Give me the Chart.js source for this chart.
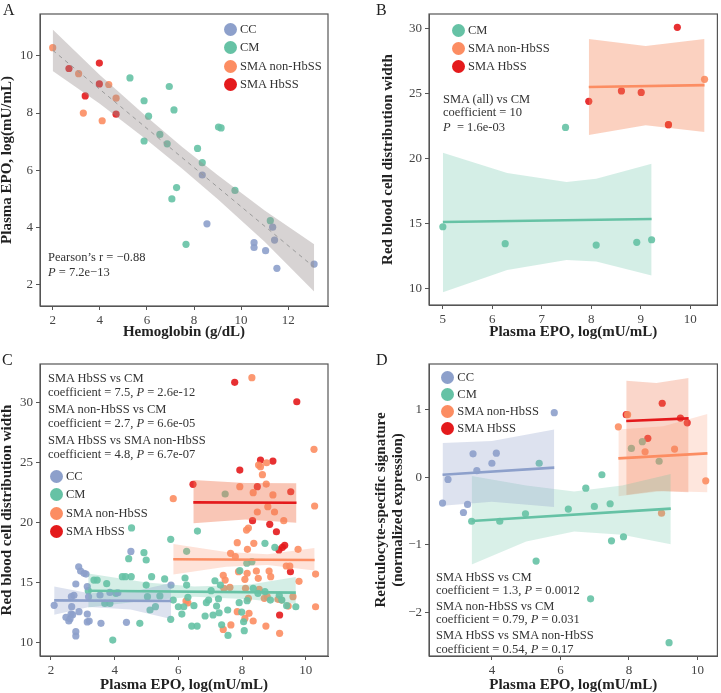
<!DOCTYPE html>
<html>
<head>
<meta charset="utf-8">
<script src="https://cdn.jsdelivr.net/npm/chart.js@4.4.1/dist/chart.umd.min.js"></script>
<style>
body{margin:0;background:#fff;}
#page{position:relative;width:721px;height:693px;font-family:"Liberation Serif",serif;color:#333;overflow:hidden;}
.panel{position:absolute;}
.lab{position:absolute;font-size:16px;line-height:16px;color:#222;}
.note{position:absolute;font-size:12.5px;line-height:14px;white-space:nowrap;}
.leg{position:absolute;font-size:12.5px;white-space:nowrap;}
.leg div{display:flex;align-items:center;}
.dot{width:13px;height:13px;border-radius:50%;display:inline-block;margin-right:3.5px;}
</style>
</head>
<body>
<div id="page">
  <canvas id="chartA" class="panel" style="left:0;top:0" width="360" height="340"></canvas>
  <canvas id="chartB" class="panel" style="left:360px;top:0" width="361" height="340"></canvas>
  <canvas id="chartC" class="panel" style="left:0;top:340px" width="360" height="353"></canvas>
  <canvas id="chartD" class="panel" style="left:360px;top:340px" width="361" height="353"></canvas>

  <div class="lab" style="left:3px;top:2px">A</div>
  <div class="lab" style="left:376px;top:2px">B</div>
  <div class="lab" style="left:2px;top:352px">C</div>
  <div class="lab" style="left:376px;top:352px">D</div>

  <!-- panel A -->
  <div class="leg" style="left:223.5px;top:20px">
    <div style="height:18.5px"><span class="dot" style="background:#8DA0CB"></span>CC</div>
    <div style="height:18.5px"><span class="dot" style="background:#66C2A5"></span>CM</div>
    <div style="height:18.5px"><span class="dot" style="background:#FC8D62"></span>SMA non-HbSS</div>
    <div style="height:18.5px"><span class="dot" style="background:#E41A1C"></span>SMA HbSS</div>
  </div>
  <div class="note" style="left:48px;top:249.5px">Pearson’s r = −0.88</div>
  <div class="note" style="left:48px;top:264.5px"><i>P</i> = 7.2e−13</div>

  <!-- panel B -->
  <div class="leg" style="left:451.5px;top:21px">
    <div style="height:18.2px"><span class="dot" style="background:#66C2A5"></span>CM</div>
    <div style="height:18.2px"><span class="dot" style="background:#FC8D62"></span>SMA non-HbSS</div>
    <div style="height:18.2px"><span class="dot" style="background:#E41A1C"></span>SMA HbSS</div>
  </div>
  <div class="note" style="left:443px;top:91.5px">SMA (all) vs CM</div>
  <div class="note" style="left:443px;top:105px">coefficient = 10</div>
  <div class="note" style="left:443px;top:119.5px"><i>P</i> &nbsp;= 1.6e-03</div>

  <!-- panel C -->
  <div class="note" style="left:48px;top:370.5px">SMA HbSS vs CM</div>
  <div class="note" style="left:48px;top:385px">coefficient = 7.5, <i>P</i> = 2.6e-12</div>
  <div class="note" style="left:48px;top:402px">SMA non-HbSS vs CM</div>
  <div class="note" style="left:48px;top:415.5px">coefficient = 2.7, <i>P</i> = 6.6e-05</div>
  <div class="note" style="left:48px;top:433px">SMA HbSS vs SMA non-HbSS</div>
  <div class="note" style="left:48px;top:447px">coefficient = 4.8, <i>P</i> = 6.7e-07</div>
  <div class="leg" style="left:49.5px;top:467.6px">
    <div style="height:18.2px"><span class="dot" style="background:#8DA0CB"></span>CC</div>
    <div style="height:18.2px"><span class="dot" style="background:#66C2A5"></span>CM</div>
    <div style="height:18.2px"><span class="dot" style="background:#FC8D62"></span>SMA non-HbSS</div>
    <div style="height:18.2px"><span class="dot" style="background:#E41A1C"></span>SMA HbSS</div>
  </div>

  <!-- panel D -->
  <div class="leg" style="left:440.8px;top:369.2px">
    <div style="height:16.9px"><span class="dot" style="background:#8DA0CB"></span>CC</div>
    <div style="height:16.9px"><span class="dot" style="background:#66C2A5"></span>CM</div>
    <div style="height:16.9px"><span class="dot" style="background:#FC8D62"></span>SMA non-HbSS</div>
    <div style="height:16.9px"><span class="dot" style="background:#E41A1C"></span>SMA HbSS</div>
  </div>
  <div class="note" style="left:436px;top:569.5px">SMA HbSS vs CM</div>
  <div class="note" style="left:436px;top:583px">coefficient = 1.3, <i>P</i> = 0.0012</div>
  <div class="note" style="left:436px;top:598.5px">SMA non-HbSS vs CM</div>
  <div class="note" style="left:436px;top:612px">coefficient = 0.79, <i>P</i> = 0.031</div>
  <div class="note" style="left:436px;top:628px">SMA HbSS vs SMA non-HbSS</div>
  <div class="note" style="left:436px;top:642px">coefficient = 0.54, <i>P</i> = 0.17</div>
</div>

<script>
//=========================================
// Colours
//=========================================
const colCC = "#8DA0CB";
const colCM = "#66C2A5";
const colNon = "#FC8D62";
const colHbSS = "#E41A1C";

//=========================================
// Panel A : hemoglobin (x) vs plasma EPO (y)
//=========================================
const aCC = [[8.35,5.83],[8.55,4.12],[11.34,4.0],[11.42,3.55],[10.55,3.46],[10.55,3.29],[11.04,3.18],[11.52,2.56],[13.1,2.71]];
const aCM = [[5.28,9.23],[6.95,8.93],[5.88,8.43],[7.15,8.11],[6.07,7.89],[9.04,7.51],[9.15,7.48],[6.55,7.25],[5.88,7.02],[6.86,6.92],[8.15,6.76],[8.35,6.26],[7.26,5.39],[7.06,4.99],[9.74,5.29],[11.24,4.23],[7.66,3.40]];
const aNon = [[2.0,10.29],[3.1,9.38],[4.38,9.0],[4.69,8.52],[3.30,8.0],[4.1,7.73]];
const aHbSS = [[2.69,9.56],[3.98,9.75],[3.98,9.02],[3.38,8.6],[4.69,7.96]];
const aFit = [[2.0,10.2],[13.1,2.6]];
const aBand = [[2.0,9.47,10.93],[4.0,8.33,9.33],[6.0,7.06,7.86],[7.5,6.05,6.81],[9.0,4.99,5.83],[11.0,3.49,4.59],[13.1,1.75,3.4]];
const aXTicks = [2,4,6,8,10,12];
const aYTicks = [2,4,6,8,10];

//=========================================
// Panel B : plasma EPO vs RDW (subset)
//=========================================
const bCM = [[5.0,14.76],[6.26,13.46],[8.10,13.35],[8.92,13.56],[9.22,13.76],[7.48,22.39]];
const bNon = [[10.29,26.08],[9.56,22.6]];
const bHbSS = [[9.74,30.08],[7.95,24.39],[8.61,25.19],[9.01,25.08],[9.56,22.6]];
const bFitCM = [[5.0,15.12],[9.22,15.35]];
const bFitSMA = [[7.95,25.49],[10.29,25.64]];
const bBandCM = [[5.0,9.72,20.45],[6.3,11.43,18.89],[7.5,12.2,18.2],[8.1,12.1,18.45],[9.22,11.02,19.6]];
const bBandSMA = [[7.95,21.8,29.18],[9.1,22.55,28.65],[10.29,22.04,29.18]];
const bXTicks = [5,6,7,8,9,10];
const bYTicks = [10,15,20,25,30];

//=========================================
// Panel C : plasma EPO vs RDW (all)
//=========================================
const cCC = [[2.10,13.09],[2.47,12.09],[2.56,11.78],[2.60,11.97],[2.63,12.36],[2.68,12.31],[2.65,12.98],[2.64,13.81],[2.72,13.92],[2.78,14.87],[2.87,16.31],[2.93,15.95],[3.04,15.76],[3.10,15.70],[2.78,10.89],[2.78,10.53],[2.88,12.56],[3.14,14.65],[3.14,12.36],[3.14,11.70],[3.20,11.78],[3.18,13.80],[3.57,11.59],[3.54,13.95],[3.85,14.17],[4.10,14.14],[4.37,11.67],[4.51,17.59],[5.77,14.78]];
const cCM = [[3.94,10.19],[3.17,14.31],[3.35,15.20],[3.45,15.20],[3.75,14.90],[3.69,13.25],[3.85,13.25],[4.04,14.09],[4.24,15.48],[4.34,15.48],[4.52,15.48],[4.44,16.98],[4.53,19.55],[4.79,11.59],[4.92,17.48],[4.99,16.87],[4.99,14.78],[5.03,13.81],[5.16,15.48],[5.11,12.70],[5.28,12.98],[5.42,13.87],[5.57,15.29],[5.76,18.60],[5.76,11.92],[5.84,13.53],[6.00,12.97],[6.17,12.97],[6.11,12.36],[6.21,15.37],[6.30,13.76],[6.26,14.78],[6.42,11.36],[6.59,11.36],[6.60,19.29],[6.49,13.06],[6.26,17.60],[6.84,12.20],[6.88,13.31],[6.95,13.53],[7.03,14.31],[7.09,12.28],[7.15,15.14],[7.20,13.03],[7.26,13.64],[7.28,12.47],[7.32,14.78],[7.36,11.47],[7.55,12.70],[7.56,10.58],[7.47,22.38],[7.93,15.98],[7.91,13.31],[7.99,12.53],[8.05,11.72],[8.07,10.97],[8.15,16.60],[8.31,16.73],[8.16,13.48],[8.35,14.51],[8.50,14.09],[8.72,18.26],[8.72,14.23],[8.89,13.53],[9.03,17.93],[9.17,13.92],[9.25,13.53],[9.40,13.06],[9.69,12.97]];
const cNon = [[8.31,32.09],[10.26,26.11],[8.52,24.80],[8.58,24.66],[8.77,24.99],[8.64,23.99],[8.76,23.21],[8.35,22.49],[8.97,22.30],[7.93,22.99],[10.28,21.38],[8.81,21.32],[9.02,20.88],[8.48,20.88],[9.31,20.15],[8.20,19.54],[8.14,19.37],[5.84,21.99],[7.85,18.32],[8.37,18.26],[8.17,17.76],[9.76,17.76],[7.64,17.43],[7.79,17.15],[7.89,15.90],[8.45,15.95],[8.85,15.95],[8.90,15.48],[8.51,15.34],[8.16,15.76],[8.09,15.26],[7.41,15.59],[7.47,15.20],[7.43,14.51],[7.62,14.59],[8.11,14.51],[8.54,14.42],[8.20,13.67],[8.79,13.81],[8.70,13.67],[9.13,13.59],[9.24,13.53],[9.45,13.03],[9.60,13.81],[9.39,16.37],[9.50,16.37],[10.31,15.70],[9.79,15.09],[10.31,12.97],[7.85,12.56],[8.22,12.42],[8.09,12.00],[8.35,11.78],[8.75,11.36],[9.18,10.75],[7.41,11.08],[7.65,11.45],[6.24,13.45],[6.30,13.30]];
const cHbSS = [[7.77,31.70],[9.72,30.08],[8.58,25.22],[8.97,25.13],[7.93,24.38],[8.48,22.99],[9.53,22.57],[6.46,23.19],[8.33,20.15],[8.87,19.85],[9.08,19.23],[9.16,17.71],[9.27,17.93],[9.34,18.10],[9.52,15.89],[9.18,12.28]];
const cFitCC = [[2.1,13.5],[5.77,13.45]];
const cFitCM = [[3.17,14.3],[9.69,14.15]];
const cFitNon = [[5.84,16.93],[10.28,16.87]];
const cFitHbSS = [[6.47,21.68],[9.71,21.65]];
const cBandCC = [[2.1,12.3,14.65],[3.2,12.95,14.1],[4.5,12.75,14.2],[5.77,11.95,14.95]];
const cBandCM = [[3.17,12.9,15.75],[5.0,13.5,15.0],[6.5,13.8,14.65],[8.2,13.6,14.8],[9.69,13.2,15.45]];
const cBandNon = [[5.84,15.67,18.2],[7.5,16.3,17.55],[8.8,16.45,17.35],[10.28,16.0,17.88]];
const cBandHbSS = [[6.47,19.93,23.55],[8.1,20.25,23.3],[9.71,19.99,23.27]];
const cXTicks = [2,4,6,8,10];
const cYTicks = [10,15,20,25,30];

//=========================================
// Panel D : plasma EPO vs reticulocyte signature
//=========================================
const dCC = [[2.56,-0.38],[2.72,-0.03],[3.17,-0.52],[3.29,-0.40],[3.45,0.35],[3.56,0.10],[4.0,0.21],[4.13,0.36],[5.82,0.96]];
const dCM = [[3.41,-0.65],[4.23,-0.65],[4.98,-0.54],[5.38,0.21],[5.29,-1.24],[6.23,-0.47],[6.74,-0.16],[6.99,-0.43],[6.88,-1.80],[7.21,0.04],[7.45,-0.39],[7.49,-0.94],[7.84,-0.88],[8.07,0.43],[8.39,0.53],[8.88,0.24],[9.17,-2.45]];
const dNon = [[7.69,0.75],[7.96,0.93],[8.47,0.38],[9.33,0.42],[8.95,-0.53],[10.24,-0.05]];
const dHbSS = [[7.92,0.93],[8.97,1.10],[8.55,0.58],[9.50,0.88],[9.70,0.81]];
const dFitCC = [[2.56,0.04],[5.82,0.145]];
const dFitCM = [[3.41,-0.646],[9.22,-0.463]];
const dFitNon = [[7.69,0.283],[10.29,0.357]];
const dFitHbSS = [[7.92,0.837],[9.74,0.876]];
const dBandCC = [[2.56,-0.42,0.51],[4.0,-0.36,0.54],[5.82,-0.44,0.71]];
const dBandCM = [[3.41,-1.29,0.02],[5.0,-0.95,-0.12],[6.4,-0.8,-0.21],[7.8,-0.85,-0.12],[9.22,-0.99,0.05]];
const dBandNon = [[7.69,-0.28,0.71],[9.0,-0.2,0.76],[10.29,-0.22,0.94]];
const dBandHbSS = [[7.92,-0.26,1.435],[8.8,-0.2,1.4],[9.74,-0.22,1.475]];
const dXTicks = [4,6,8,10];
const dYTicks = [-2,-1,0,1];

//=========================================
// Helpers
//=========================================
const serif = "'Liberation Serif', serif";

function pts(list){
    return list.map(p => ({x:p[0], y:p[1]}));
}

function scatterSet(list, color){
    return { type:"scatter", data:pts(list), backgroundColor:color, borderWidth:0,
             pointRadius:3.6, pointHoverRadius:3.6, order:3 };
}

function bandSets(list, fill){
    return [
        { type:"line", data:list.map(p => ({x:p[0], y:p[2]})), borderWidth:0, pointRadius:0,
          fill:"+1", backgroundColor:fill, order:2 },
        { type:"line", data:list.map(p => ({x:p[0], y:p[1]})), borderWidth:0, pointRadius:0,
          fill:false, order:2 }
    ];
}

function lineSet(list, color, width, dash){
    return { type:"line", data:pts(list), borderColor:color, borderWidth:width, pointRadius:0,
             borderDash:dash || [], fill:false, order:1 };
}

const frame = {
    id:"frame",
    afterDraw(chart){
        const a = chart.chartArea;
        const ctx = chart.ctx;
        ctx.save();
        ctx.strokeStyle = "#555";
        ctx.lineWidth = 1.2;
        ctx.strokeRect(a.left, a.top, a.right - a.left, a.bottom - a.top);
        ctx.restore();
    }
};

function fmt(v){
    return v < 0 ? "\u2212" + Math.abs(v) : String(v);
}

function makeChart(id, p){
    return new Chart(document.getElementById(id), {
        type:"scatter",
        data:{ datasets:p.datasets },
        options:{
            responsive:false,
            animation:false,
            events:[],
            layout:{ padding:{ top:p.top, right:p.right, left:0, bottom:0 } },
            plugins:{ legend:{display:false}, tooltip:{enabled:false} },
            scales:{
                x:{
                    type:"linear", min:p.x[0], max:p.x[1],
                    afterBuildTicks:ax => { ax.ticks = p.xt.map(v => ({value:v})); },
                    afterFit:s => { s.height = p.xh; },
                    grid:{ drawOnChartArea:false, drawTicks:true, tickLength:4, color:"#555" },
                    border:{ display:true, color:"#555" },
                    ticks:{ font:{family:serif, size:13}, color:"#444", padding:3, maxRotation:0, callback:fmt },
                    title:{ display:true, text:p.xTitle, color:"#222",
                            font:{family:serif, size:15, weight:"bold", lineHeight:1},
                            padding:{top:0, bottom:p.xPad} }
                },
                y:{
                    type:"linear", min:p.y[0], max:p.y[1],
                    afterBuildTicks:ax => { ax.ticks = p.yt.map(v => ({value:v})); },
                    afterFit:s => { s.width = p.yw; },
                    grid:{ drawOnChartArea:false, drawTicks:true, tickLength:4, color:"#555" },
                    border:{ display:true, color:"#555" },
                    ticks:{ font:{family:serif, size:13}, color:"#444", padding:3, callback:fmt },
                    title:{ display:true, text:p.yTitle, color:"#222",
                            font:{family:serif, size:15, weight:"bold", lineHeight:p.yLine},
                            padding:{top:p.yPad, bottom:0} }
                }
            }
        },
        plugins:[frame]
    });
}

//=========================================
// Build panels
//=========================================
makeChart("chartA", {
    datasets:[
        scatterSet(aCC, "rgba(141,160,203,0.9)"),
        scatterSet(aCM, "rgba(102,194,165,0.9)"),
        scatterSet(aNon, "rgba(252,141,98,0.9)"),
        scatterSet(aHbSS, "rgba(228,26,28,0.9)"),
        ...bandSets(aBand, "rgba(150,140,140,0.38)"),
        lineSet(aFit, "#9a9a9a", 1, [4,4])
    ],
    x:[1.46, 13.69], y:[1.24, 11.47], xt:aXTicks, yt:aYTicks,
    top:14, right:32, yw:40, xh:34, xPad:0, yPad:0, yLine:1,
    xTitle:"Hemoglobin (g/dL)", yTitle:"Plasma EPO, log(mU/mL)"
});

makeChart("chartB", {
    datasets:[
        scatterSet(bCM, "rgba(102,194,165,0.9)"),
        scatterSet(bHbSS, "rgba(228,26,28,0.9)"),
        scatterSet(bNon, "rgba(252,141,98,0.9)"),
        ...bandSets(bBandCM, "rgba(102,194,165,0.28)"),
        ...bandSets(bBandSMA, "rgba(245,135,90,0.38)"),
        lineSet(bFitCM, colCM, 2.6),
        lineSet(bFitSMA, colNon, 2.6)
    ],
    x:[4.72, 10.55], y:[8.75, 31.1], xt:bXTicks, yt:bYTicks,
    top:14, right:3, yw:69, xh:35, xPad:0, yPad:20.5, yLine:1,
    xTitle:"Plasma EPO, log(mU/mL)", yTitle:"Red blood cell distribution width"
});

makeChart("chartC", {
    datasets:[
        scatterSet(cCC, "rgba(141,160,203,0.9)"),
        scatterSet(cCM, "rgba(102,194,165,0.9)"),
        scatterSet(cNon, "rgba(252,141,98,0.9)"),
        scatterSet(cHbSS, "rgba(228,26,28,0.9)"),
        ...bandSets(cBandCC, "rgba(141,160,203,0.3)"),
        ...bandSets(cBandCM, "rgba(102,194,165,0.28)"),
        ...bandSets(cBandNon, "rgba(252,141,98,0.25)"),
        ...bandSets(cBandHbSS, "rgba(240,120,80,0.42)"),
        lineSet(cFitCC, colCC, 2.6),
        lineSet(cFitCM, colCM, 2.6),
        lineSet(cFitNon, colNon, 2.6),
        lineSet(cFitHbSS, colHbSS, 2.6)
    ],
    x:[1.655, 10.70], y:[8.86, 33.23], xt:cXTicks, yt:cYTicks,
    top:24, right:32, yw:40, xh:37, xPad:0.5, yPad:0, yLine:1,
    xTitle:"Plasma EPO, log(mU/mL)", yTitle:"Red blood cell distribution width"
});

makeChart("chartD", {
    datasets:[
        scatterSet(dCC, "rgba(141,160,203,0.9)"),
        scatterSet(dCM, "rgba(102,194,165,0.9)"),
        scatterSet(dNon, "rgba(252,141,98,0.9)"),
        scatterSet(dHbSS, "rgba(228,26,28,0.9)"),
        ...bandSets(dBandCC, "rgba(141,160,203,0.3)"),
        ...bandSets(dBandCM, "rgba(102,194,165,0.25)"),
        ...bandSets(dBandNon, "rgba(252,141,98,0.22)"),
        ...bandSets(dBandHbSS, "rgba(240,120,80,0.3)"),
        lineSet(dFitCC, colCC, 2.6),
        lineSet(dFitCM, colCM, 2.6),
        lineSet(dFitNon, colNon, 2.6),
        lineSet(dFitHbSS, colHbSS, 2.6)
    ],
    x:[2.165, 10.58], y:[-2.648, 1.682], xt:dXTicks, yt:dYTicks,
    top:24, right:3, yw:69, xh:37, xPad:0.5, yPad:13.25, yLine:1.1,
    xTitle:"Plasma EPO, log(mU/mL)",
    yTitle:["Reticulocyte-specific signature", "(normalized expression)"]
});
</script>
</body>
</html>
